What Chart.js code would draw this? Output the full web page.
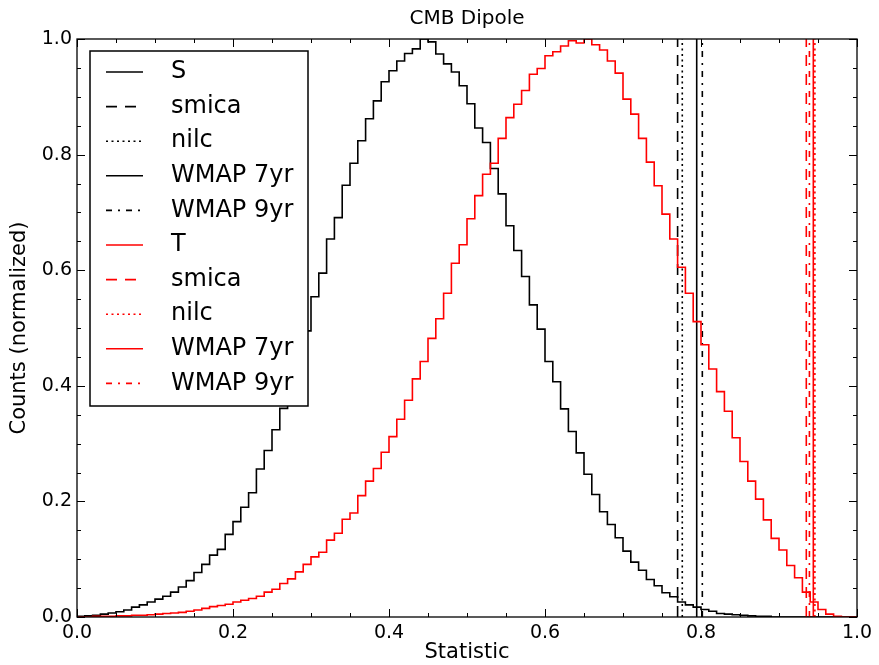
<!DOCTYPE html>
<html>
<head>
<meta charset="utf-8">
<title>CMB Dipole</title>
<script src="https://cdn.jsdelivr.net/npm/chart.js@4.4.1/dist/chart.umd.min.js"></script>
<style>
  html, body { margin: 0; padding: 0; background: #fff; }
</style>
</head>
<body>
<canvas id="dipoleChart" width="879" height="665"></canvas>
<script>
// histogram bins: 100 bins of width 0.01 between 0 and 1
const binWidth = 0.01;

// S statistic (black), normalized counts per bin
const sCounts = [
  0.001, 0.002, 0.003, 0.005, 0.007, 0.009, 0.012, 0.017, 0.021, 0.026,
  0.031, 0.036, 0.043, 0.052, 0.063, 0.077, 0.091, 0.107, 0.117, 0.143,
  0.165, 0.190, 0.215, 0.256, 0.288, 0.324, 0.361, 0.405, 0.450, 0.495,
  0.554, 0.595, 0.654, 0.691, 0.747, 0.785, 0.824, 0.862, 0.893, 0.926,
  0.945, 0.962, 0.975, 0.983, 1.000, 0.995, 0.974, 0.957, 0.943, 0.919,
  0.888, 0.846, 0.821, 0.776, 0.732, 0.677, 0.634, 0.589, 0.540, 0.498,
  0.442, 0.407, 0.360, 0.321, 0.284, 0.247, 0.212, 0.182, 0.160, 0.137,
  0.114, 0.095, 0.081, 0.065, 0.054, 0.042, 0.035, 0.026, 0.021, 0.017,
  0.013, 0.010, 0.006, 0.005, 0.004, 0.003, 0.002, 0.001, 0.001, 0,
  0, 0, 0, 0, 0, 0, 0, 0, 0, 0
];

// T statistic (red), normalized counts per bin
const tCounts = [
  0, 0, 0.001, 0.001, 0.001, 0.002, 0.002, 0.003, 0.003, 0.004,
  0.005, 0.006, 0.007, 0.008, 0.010, 0.012, 0.015, 0.018, 0.020, 0.022,
  0.026, 0.029, 0.032, 0.036, 0.043, 0.048, 0.058, 0.066, 0.078, 0.091,
  0.104, 0.112, 0.133, 0.145, 0.169, 0.180, 0.210, 0.235, 0.257, 0.285,
  0.312, 0.342, 0.375, 0.412, 0.442, 0.482, 0.516, 0.560, 0.612, 0.644,
  0.689, 0.729, 0.766, 0.785, 0.828, 0.864, 0.887, 0.911, 0.939, 0.949,
  0.971, 0.978, 0.988, 0.997, 0.993, 1.000, 0.990, 0.981, 0.962, 0.941,
  0.896, 0.870, 0.828, 0.787, 0.746, 0.697, 0.654, 0.605, 0.560, 0.511,
  0.471, 0.429, 0.390, 0.356, 0.310, 0.269, 0.235, 0.204, 0.168, 0.136,
  0.116, 0.089, 0.068, 0.043, 0.026, 0.013, 0.005, 0.001, 0, 0
];

// observed values from the maps: smica, nilc, WMAP 7yr, WMAP 9yr
const markerNames = ['smica', 'nilc', 'WMAP 7yr', 'WMAP 9yr'];
const sMarkers = [0.770, 0.776, 0.7945, 0.8017];
const tMarkers = [0.935, 0.946, 0.944, 0.939];

// labelled ticks, minor ticks every 0.05
const tickValues = [0, 0.2, 0.4, 0.6, 0.8, 1.0];
const minorStep = 0.05;

const dashes = {
  smica: [11, 8],
  nilc: [2, 3.5],
  'WMAP 7yr': [],
  'WMAP 9yr': [6, 6, 2, 6]
};

// step outline like matplotlib histtype='step'
function stepPoints(counts) {
  const pts = [{ x: 0, y: 0 }];
  counts.forEach((c, i) => pts.push({ x: i * binWidth, y: c }));
  const end = counts.length * binWidth;
  pts.push({ x: end, y: counts[counts.length - 1] });
  pts.push({ x: end, y: 0 });
  return pts;
}

function histDataset(label, counts, color) {
  return {
    label: label,
    data: stepPoints(counts),
    borderColor: color,
    borderWidth: 1.6,
    borderDash: [],
    stepped: 'before',
    pointRadius: 0,
    fill: false
  };
}

function markerDatasets(values, color) {
  return values.map((v, i) => ({
    label: markerNames[i],
    data: [{ x: v, y: 0 }, { x: v, y: 1 }],
    borderColor: color,
    borderWidth: 1.6,
    borderDash: dashes[markerNames[i]],
    pointRadius: 0,
    fill: false
  }));
}

const datasets = [
  histDataset('S', sCounts, '#000000'),
  ...markerDatasets(sMarkers, '#000000'),
  histDataset('T', tCounts, '#ff0000'),
  ...markerDatasets(tMarkers, '#ff0000')
];
// later datasets on top, like matplotlib
datasets.forEach((ds, i) => { ds.order = datasets.length - i; });

// frame with inward ticks on all four sides, title over the axes
const axesFrame = {
  id: 'axesFrame',
  afterDatasetsDraw(chart) {
    const { ctx, chartArea: a, scales } = chart;
    ctx.save();
    ctx.strokeStyle = '#000';
    ctx.lineWidth = 1.3;
    ctx.strokeRect(a.left, a.top, a.right - a.left, a.bottom - a.top);
    ctx.lineWidth = 1;
    ctx.beginPath();
    for (let k = 0; k <= 20; k++) {
      const v = k * minorStep;
      const len = (k % 4 === 0) ? 8 : 4;
      const px = Math.round(scales.x.getPixelForValue(v)) + 0.5;
      const py = Math.round(scales.y.getPixelForValue(v)) + 0.5;
      ctx.moveTo(px, a.bottom); ctx.lineTo(px, a.bottom - len);
      ctx.moveTo(px, a.top); ctx.lineTo(px, a.top + len);
      ctx.moveTo(a.left, py); ctx.lineTo(a.left + len, py);
      ctx.moveTo(a.right, py); ctx.lineTo(a.right - len, py);
    }
    ctx.stroke();

    ctx.fillStyle = '#000';
    ctx.font = '20px "DejaVu Sans"';
    ctx.textAlign = 'center';
    ctx.textBaseline = 'middle';
    ctx.fillText('CMB Dipole', (a.left + a.right) / 2, 19);
    ctx.restore();
  }
};

// legend box drawn inside the axes, top left
const legendBox = {
  id: 'legendBox',
  afterDraw(chart) {
    const { ctx, chartArea } = chart;
    const x0 = chartArea.left + 13;
    const y0 = chartArea.top + 12;
    const w = 218, h = 355, rowH = 34.6;
    ctx.save();
    ctx.fillStyle = '#fff';
    ctx.fillRect(x0, y0, w, h);
    ctx.strokeStyle = '#000';
    ctx.lineWidth = 1.5;
    ctx.strokeRect(x0, y0, w, h);
    ctx.font = '24px "DejaVu Sans"';
    ctx.textBaseline = 'middle';
    chart.data.datasets.forEach((ds, i) => {
      const y = y0 + 21 + i * rowH;
      ctx.beginPath();
      ctx.strokeStyle = ds.borderColor;
      ctx.lineWidth = ds.borderWidth;
      ctx.setLineDash(ds.borderDash || []);
      ctx.moveTo(x0 + 16, y);
      ctx.lineTo(x0 + 53, y);
      ctx.stroke();
      ctx.setLineDash([]);
      ctx.fillStyle = '#000';
      ctx.fillText(ds.label, x0 + 81, y);
    });
    ctx.restore();
  }
};

Chart.defaults.font.family = '"DejaVu Sans", sans-serif';
Chart.defaults.color = '#000';

const ctx = document.getElementById('dipoleChart').getContext('2d');
new Chart(ctx, {
  type: 'line',
  data: { datasets: datasets },
  options: {
    responsive: false,
    animation: false,
    layout: { padding: { top: 39, right: 22 } },
    plugins: {
      legend: { display: false },
      tooltip: { enabled: false },
      title: { display: false }
    },
    scales: {
      x: {
        type: 'linear',
        min: 0,
        max: 1,
        grid: { display: false, drawTicks: false },
        border: { display: false },
        afterBuildTicks: s => { s.ticks = tickValues.map(v => ({ value: v })); },
        afterFit: s => { s.height = 48; },
        ticks: {
          padding: 5,
          font: { size: 19 },
          maxRotation: 0,
          callback: v => Number(v).toFixed(1)
        },
        title: {
          display: true,
          text: 'Statistic',
          font: { size: 21 },
          padding: { top: 0, bottom: 0 }
        }
      },
      y: {
        type: 'linear',
        min: 0,
        max: 1,
        grid: { display: false, drawTicks: false },
        border: { display: false },
        afterBuildTicks: s => { s.ticks = tickValues.map(v => ({ value: v })); },
        afterFit: s => { s.width = 77; },
        ticks: {
          padding: 5,
          font: { size: 19 },
          callback: v => Number(v).toFixed(1)
        },
        title: {
          display: true,
          text: 'Counts (normalized)',
          font: { size: 21 },
          padding: { top: 7, bottom: 0 }
        }
      }
    }
  },
  plugins: [axesFrame, legendBox]
});
</script>
</body>
</html>
